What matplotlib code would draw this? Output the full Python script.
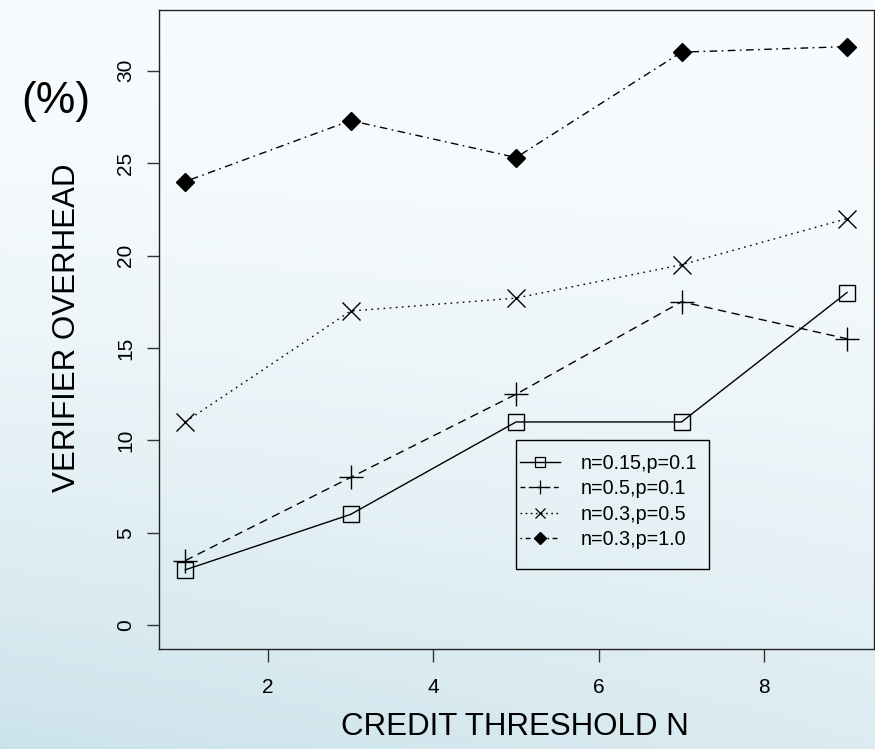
import numpy as np
import matplotlib
matplotlib.use("Agg")
import matplotlib.pyplot as plt
from matplotlib.lines import Line2D
from matplotlib.patches import Rectangle

plt.rcParams['font.family'] = ['Liberation Sans', 'DejaVu Sans']

x = [1, 3, 5, 7, 9]
s1 = [3.0, 6.0, 11.0, 11.0, 18.0]       # n=0.15,p=0.1
s2 = [3.5, 8.0, 12.5, 17.5, 15.5]       # n=0.5,p=0.1
s3 = [11.0, 17.0, 17.7, 19.5, 22.0]     # n=0.3,p=0.5
s4 = [24.0, 27.3, 25.3, 31.0, 31.3]     # n=0.3,p=1.0
labels = ["n=0.15,p=0.1", "n=0.5,p=0.1", "n=0.3,p=0.5", "n=0.3,p=1.0"]
xticks = [2, 4, 6, 8]
yticks = [0, 5, 10, 15, 20, 25, 30]

fig = plt.figure(figsize=(8.75, 7.49), dpi=100)

# background gradient (slide)
bg = fig.add_axes([0, 0, 1, 1], zorder=-10)
H, W = 200, 200
yy, xx = np.mgrid[0:1:H*1j, 0:1:W*1j]
t = np.clip(yy**1.6 * (1.0 - 0.35 * xx), 0, 1)
top = np.array([0.975, 0.988, 0.995])
bot = np.array([0.80, 0.89, 0.92])
img = top[None, None, :] * (1 - t[..., None]) + bot[None, None, :] * t[..., None]
bg.imshow(img, aspect='auto', extent=[0, 1, 1, 0])
bg.set_axis_off()

ax = fig.add_axes([158.7/875, 100/749, (873.5-158.7)/875, 639/749])
ax.set_facecolor('none')

lw = 1.0
ax.plot(x, s1, color='black', lw=lw, linestyle='-', marker='s', ms=12.2,
        mfc='none', mec='black', mew=1.0)
ax.plot(x, s2, color='black', lw=lw, linestyle=(0, (6, 4)), marker='+', ms=17,
        mew=1.0)
ax.plot(x, s3, color='black', lw=lw, linestyle=(0, (1.2, 3.2)), marker='x', ms=13,
        mew=1.0)
ax.plot(x, s4, color='black', lw=lw, linestyle=(0, (1.2, 3.2, 5.5, 3.2)), marker='D',
        ms=9, mfc='black', mec='black')

ax.set_xlim(0.68, 9.32)
ax.set_ylim(-1.28, 33.28)
ax.set_xticks(xticks)
ax.set_yticks(yticks)
ax.tick_params(axis='both', direction='out', length=9, width=1, labelsize=15,
               color='#333333')
ax.tick_params(axis='x', pad=12)
ax.tick_params(axis='y', pad=8)
for lab in ax.get_yticklabels():
    lab.set_rotation(90)
    lab.set_va('center')
for sp in ax.spines.values():
    sp.set_linewidth(1.0)
    sp.set_color('#222222')

fig.text(515/875, 1 - 727/749, "CREDIT THRESHOLD N", fontsize=22.5, ha='center', va='center')
fig.text(67/875, 1 - 328/749, "VERIFIER OVERHEAD", fontsize=22.5, rotation=90,
         ha='center', va='center')
fig.text(56/875, 1 - 102/749, "(%)", fontsize=32, ha='center', va='center')

# legend frame (data coordinates of the box)
ax.add_patch(Rectangle((5, 3.02), 2.33, 7.02, fill=False, edgecolor='black', lw=1.0,
                       zorder=3))
handles = [
    Line2D([], [], color='black', lw=lw, linestyle='-', marker='s', ms=7, mfc='none', mew=0.9),
    Line2D([], [], color='black', lw=lw, linestyle=(0, (3.5, 2.5)), marker='+', ms=10, mew=0.9),
    Line2D([], [], color='black', lw=lw, linestyle=(0, (1.2, 2.5)), marker='x', ms=7, mew=0.9),
    Line2D([], [], color='black', lw=lw, linestyle=(0, (1.2, 2.5, 3.5, 2.5)), marker='D', ms=6,
           mfc='black'),
]
leg = ax.legend(handles, labels, loc='upper left',
                bbox_to_anchor=(5 + 4/82.8, 10.04 - 14/18.52),
                bbox_transform=ax.transData, fontsize=14.2, frameon=False,
                handlelength=2.0, handletextpad=1.05, labelspacing=0.33,
                borderpad=0, borderaxespad=0)

fig.savefig("out.png", dpi=100)
